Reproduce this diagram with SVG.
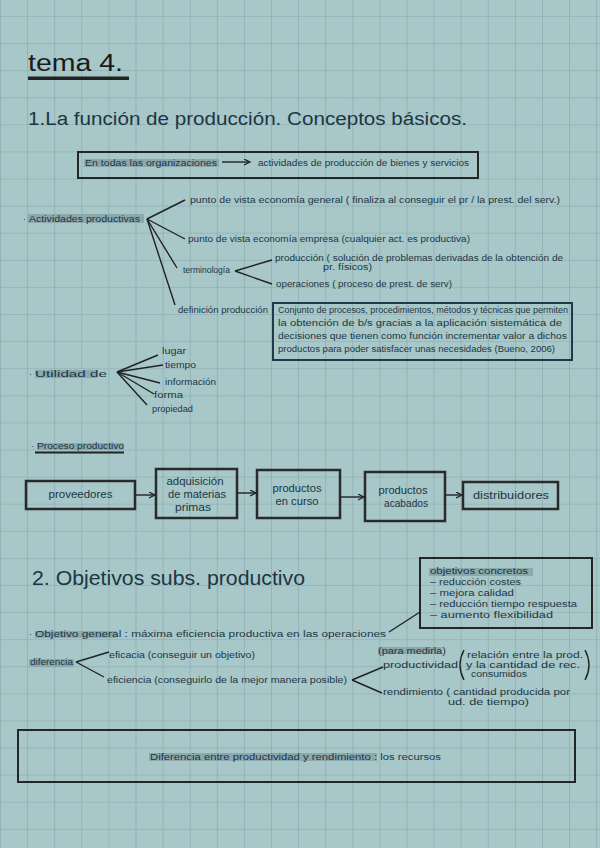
<svg xmlns="http://www.w3.org/2000/svg" width="600" height="848" viewBox="0 0 600 848">
<defs>
<pattern id="grid" width="27.1" height="27.1" patternUnits="userSpaceOnUse" x="0" y="15.9">
<path d="M0,0 H27.1 M0,0 V27.1" fill="none" stroke="#86a6a9" stroke-width="1.2"/>
</pattern>
<marker id="arr" markerWidth="8" markerHeight="8" refX="6" refY="3" orient="auto" markerUnits="userSpaceOnUse">
<path d="M0,0 L6,3 L0,6" fill="none" stroke="#222" stroke-width="1.2"/>
</marker>
<style>
.t{font-family:"Liberation Sans","DejaVu Sans",sans-serif;fill:#1c3644}
.s{font-size:8.5px}
.m{font-size:10px}
.hl{fill:#8ba8ac}
.box{fill:none;stroke:#252525;stroke-width:2}
.nbox{fill:none;stroke:#1c3a48;stroke-width:2}
.pbox{fill:none;stroke:#2a2a2a;stroke-width:2.5}
.ln{fill:none;stroke:#222;stroke-width:1.4}
</style>
</defs>
<rect width="600" height="848" fill="#a7c7c9"/>
<rect width="600" height="848" fill="url(#grid)"/>

<g id="title">
<text class="t" x="28" y="71" font-size="23" textLength="95" lengthAdjust="spacingAndGlyphs" style="fill:#1a1a1a">tema 4.</text>
<rect x="28" y="76.5" width="101" height="3.5" fill="#222"/>
</g>
<g id="heading1">
<text class="t" x="28" y="125" font-size="18" textLength="439" lengthAdjust="spacingAndGlyphs">1.La función de producción. Conceptos básicos.</text>
</g>

<g id="organizaciones">
<rect class="box" x="78" y="152" width="400" height="26"/>
<rect class="hl" x="84" y="159" width="135" height="8"/>
<text class="t s" x="85" y="166" textLength="132" lengthAdjust="spacingAndGlyphs">En todas las organizaciones</text>
<text class="t s" x="258" y="166" textLength="211" lengthAdjust="spacingAndGlyphs">actividades de producción de bienes y servicios</text>
</g>

<g id="actividades">
<rect class="hl" x="28" y="214" width="116" height="9"/>
<text class="t s" x="23" y="222">·</text>
<text class="t s" x="29" y="222" textLength="111" lengthAdjust="spacingAndGlyphs">Actividades productivas</text>
</g>
<g id="vista-general">
<text class="t s" x="190" y="203" textLength="370" lengthAdjust="spacingAndGlyphs">punto de vista economía general ( finaliza al conseguir el pr / la prest. del serv.)</text>
</g>
<g id="vista-empresa">
<text class="t s" x="188" y="242" textLength="282" lengthAdjust="spacingAndGlyphs">punto de vista economía empresa (cualquier act. es productiva)</text>
</g>
<g id="terminologia">
<text class="t s" x="183" y="273" textLength="47" lengthAdjust="spacingAndGlyphs">terminología</text>
</g>
<g id="produccion">
<text class="t s" x="275" y="261" textLength="288" lengthAdjust="spacingAndGlyphs">producción ( solución de problemas derivadas de la obtención de</text>
<text class="t s" x="323" y="270" textLength="49" lengthAdjust="spacingAndGlyphs">pr. físicos)</text>
</g>
<g id="operaciones">
<text class="t s" x="276" y="287" textLength="176" lengthAdjust="spacingAndGlyphs">operaciones ( proceso de prest. de serv)</text>
</g>
<g id="definicion">
<text class="t s" x="178" y="313" textLength="90" lengthAdjust="spacingAndGlyphs">definición producción</text>
</g>
<g id="definicion-box">
<rect class="nbox" x="273" y="303" width="299" height="57"/>
<text class="t s" x="278" y="313" textLength="290" lengthAdjust="spacingAndGlyphs">Conjunto de procesos, procedimientos, métodos y técnicas que permiten</text>
<text class="t s" x="278" y="326" textLength="284" lengthAdjust="spacingAndGlyphs">la obtención de b/s gracias a la aplicación sistemática de</text>
<text class="t s" x="278" y="339" textLength="289" lengthAdjust="spacingAndGlyphs">decisiones que tienen como función incrementar valor a dichos</text>
<text class="t s" x="278" y="352" textLength="277" lengthAdjust="spacingAndGlyphs">productos para poder satisfacer unas necesidades (Bueno, 2006)</text>
</g>

<g id="utilidad">
<rect class="hl" x="35" y="370" width="62" height="8"/>
<text class="t s" x="29" y="377">·</text>
<text class="t s" x="35" y="377" textLength="72" lengthAdjust="spacingAndGlyphs">Utilidad    de</text>
</g>
<g id="lugar"><text class="t s" x="162" y="354" textLength="24" lengthAdjust="spacingAndGlyphs">lugar</text></g>
<g id="tiempo"><text class="t s" x="165" y="368" textLength="31" lengthAdjust="spacingAndGlyphs">tiempo</text></g>
<g id="informacion"><text class="t s" x="165" y="385" textLength="51" lengthAdjust="spacingAndGlyphs">información</text></g>
<g id="forma"><text class="t s" x="154" y="398" textLength="29" lengthAdjust="spacingAndGlyphs">forma</text></g>
<g id="propiedad"><text class="t s" x="152" y="412" textLength="41" lengthAdjust="spacingAndGlyphs">propiedad</text></g>

<g id="proceso">
<rect class="hl" x="37" y="443" width="87" height="7"/>
<text class="t s" x="31" y="449">·</text>
<text class="t s" x="37" y="449" textLength="87" lengthAdjust="spacingAndGlyphs">Proceso productivo</text>
<rect x="35" y="451.5" width="89" height="2" fill="#222"/>
</g>
<g id="proveedores">
<rect class="pbox" x="26" y="481" width="109" height="28"/>
<text class="t m" x="80.5" y="498" text-anchor="middle" textLength="64" lengthAdjust="spacingAndGlyphs">proveedores</text>
</g>
<g id="adquisicion">
<rect class="pbox" x="156" y="469" width="81" height="49"/>
<text class="t m" x="195" y="485" text-anchor="middle" textLength="57" lengthAdjust="spacingAndGlyphs">adquisición</text>
<text class="t m" x="197" y="498" text-anchor="middle" textLength="58" lengthAdjust="spacingAndGlyphs">de materias</text>
<text class="t m" x="193" y="511" text-anchor="middle" textLength="36" lengthAdjust="spacingAndGlyphs">primas</text>
</g>
<g id="curso">
<rect class="pbox" x="257" y="470" width="83" height="48"/>
<text class="t m" x="297" y="492" text-anchor="middle" textLength="49" lengthAdjust="spacingAndGlyphs">productos</text>
<text class="t m" x="297" y="505" text-anchor="middle" textLength="43" lengthAdjust="spacingAndGlyphs">en curso</text>
</g>
<g id="acabados">
<rect class="pbox" x="365" y="472" width="80" height="49"/>
<text class="t m" x="403" y="494" text-anchor="middle" textLength="49" lengthAdjust="spacingAndGlyphs">productos</text>
<text class="t m" x="406" y="507" text-anchor="middle" textLength="44" lengthAdjust="spacingAndGlyphs">acabados</text>
</g>
<g id="distribuidores">
<rect class="pbox" x="463" y="482" width="95" height="27"/>
<text class="t m" x="511" y="499" text-anchor="middle" textLength="76" lengthAdjust="spacingAndGlyphs">distribuidores</text>
</g>

<g id="heading2">
<text class="t" x="32" y="585" font-size="20" textLength="273" lengthAdjust="spacingAndGlyphs">2. Objetivos  subs. productivo</text>
</g>
<g id="objetivos-concretos">
<rect class="box" x="420" y="558" width="172" height="70"/>
<rect class="hl" x="429" y="568" width="104" height="8"/>
<text class="t s" x="430" y="574" textLength="98" lengthAdjust="spacingAndGlyphs">objetivos  concretos</text>
<text class="t s" x="430" y="585" textLength="91" lengthAdjust="spacingAndGlyphs">– reducción costes</text>
<text class="t s" x="430" y="596" textLength="84" lengthAdjust="spacingAndGlyphs">– mejora calidad</text>
<text class="t s" x="430" y="607" textLength="147" lengthAdjust="spacingAndGlyphs">– reducción tiempo respuesta</text>
<text class="t s" x="430" y="618" textLength="123" lengthAdjust="spacingAndGlyphs">– aumento flexibilidad</text>
</g>
<g id="objetivo-general">
<rect class="hl" x="35" y="631" width="82" height="7"/>
<text class="t s" x="29" y="637">·</text>
<text class="t s" x="35" y="637" textLength="351" lengthAdjust="spacingAndGlyphs">Objetivo general : máxima eficiencia productiva en las operaciones</text>
</g>
<g id="diferencia">
<rect class="hl" x="29" y="659" width="45" height="8"/>
<text class="t s" x="30" y="665" textLength="43" lengthAdjust="spacingAndGlyphs">diferencia</text>
</g>
<g id="eficacia">
<text class="t s" x="109" y="658" textLength="146" lengthAdjust="spacingAndGlyphs">eficacia (conseguir un objetivo)</text>
</g>
<g id="eficiencia">
<text class="t s" x="107" y="683" textLength="240" lengthAdjust="spacingAndGlyphs">eficiencia (conseguirlo de la mejor manera posible)</text>
</g>
<g id="productividad">
<rect class="hl" x="378" y="647" width="63" height="7"/>
<text class="t s" x="378" y="654" textLength="68" lengthAdjust="spacingAndGlyphs">(para medirla)</text>
<text class="t s" x="383" y="668" textLength="75" lengthAdjust="spacingAndGlyphs">productividad</text>
<path class="ln" d="M464,650 Q456,665 464,680"/>
<text class="t s" x="467" y="658" textLength="116" lengthAdjust="spacingAndGlyphs">relación entre la prod.</text>
<text class="t s" x="466" y="668" textLength="114" lengthAdjust="spacingAndGlyphs">y la cantidad de rec.</text>
<text class="t s" x="471" y="677" textLength="56" lengthAdjust="spacingAndGlyphs">consumidos</text>
<path class="ln" d="M585,650 Q593,665 585,680"/>
</g>
<g id="rendimiento">
<text class="t s" x="383" y="695" textLength="187" lengthAdjust="spacingAndGlyphs">rendimiento ( cantidad producida por</text>
<text class="t s" x="448" y="705" textLength="81" lengthAdjust="spacingAndGlyphs">ud. de tiempo)</text>
</g>
<g id="diferencia-box">
<rect class="box" x="18" y="730" width="557" height="52"/>
<rect class="hl" x="149" y="753" width="228" height="8"/>
<text class="t s" x="150" y="760" textLength="291" lengthAdjust="spacingAndGlyphs">Diferencia entre productividad y rendimiento : los recursos</text>
</g>

<g id="connectors">
<line class="ln" x1="222" y1="162" x2="250" y2="162" marker-end="url(#arr)"/>
<line class="ln" x1="147" y1="219" x2="185" y2="200"/>
<line class="ln" x1="147" y1="219" x2="185" y2="239"/>
<line class="ln" x1="147" y1="219" x2="177" y2="268"/>
<line class="ln" x1="147" y1="219" x2="175" y2="305"/>
<line class="ln" x1="235" y1="271" x2="272" y2="260"/>
<line class="ln" x1="235" y1="271" x2="272" y2="284"/>
<line class="ln" x1="117" y1="372" x2="158" y2="355"/>
<line class="ln" x1="117" y1="372" x2="163" y2="365"/>
<line class="ln" x1="117" y1="372" x2="160" y2="383"/>
<line class="ln" x1="117" y1="372" x2="154" y2="394"/>
<line class="ln" x1="117" y1="372" x2="147" y2="405"/>
<line class="ln" x1="135" y1="495" x2="155" y2="495" marker-end="url(#arr)"/>
<line class="ln" x1="237" y1="493" x2="256" y2="493" marker-end="url(#arr)"/>
<line class="ln" x1="340" y1="497" x2="364" y2="497" marker-end="url(#arr)"/>
<line class="ln" x1="445" y1="495" x2="462" y2="495" stroke-width="2" marker-end="url(#arr)"/>
<line class="ln" x1="389" y1="632" x2="420" y2="612"/>
<line class="ln" x1="76" y1="662" x2="109" y2="652"/>
<line class="ln" x1="76" y1="662" x2="104" y2="677"/>
<line class="ln" x1="352" y1="680" x2="383" y2="667"/>
<line class="ln" x1="352" y1="680" x2="382" y2="693"/>
</g>
</svg>
